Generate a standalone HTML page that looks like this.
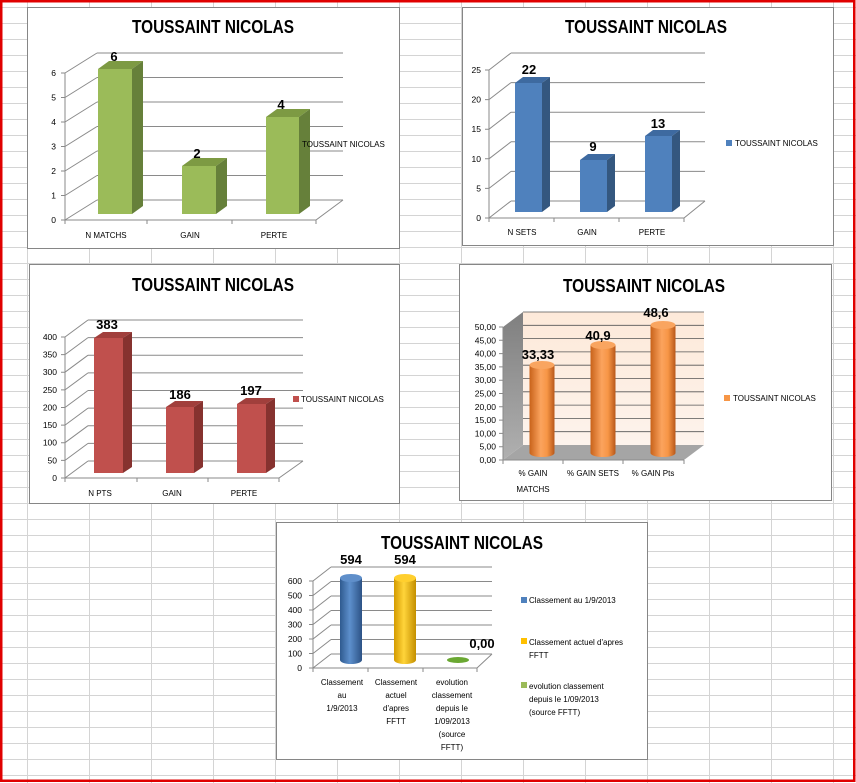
<!DOCTYPE html>
<html><head><meta charset="utf-8"><style>
html,body{margin:0;padding:0;background:#fff;}
svg{display:block;}
text{font-family:"Liberation Sans",sans-serif;fill:#000;}
.t{font-size:18px;font-weight:bold;}
.v{font-size:13px;font-weight:bold;}
.k{font-size:8.5px;}
.c{font-size:8px;}
.g{stroke:#8a8a8a;stroke-width:1;fill:none;}
.box{fill:#fff;stroke:#868686;stroke-width:1;}
</style></head><body>
<svg width="856" height="783" viewBox="0 0 856 783" xmlns="http://www.w3.org/2000/svg">
<defs>
<pattern id="grid" x="0" y="7" width="62" height="16" patternUnits="userSpaceOnUse">
<path d="M0 0.5H62" stroke="#d4d4d4" stroke-width="1"/>
</pattern>
<pattern id="vgrid" x="27" y="0" width="62" height="16" patternUnits="userSpaceOnUse">
<path d="M0.5 0V16" stroke="#d4d4d4" stroke-width="1"/>
</pattern>
<linearGradient id="org" x1="0" x2="1"><stop offset="0" stop-color="#c8621a"/><stop offset="0.45" stop-color="#fba35e"/><stop offset="0.7" stop-color="#f79646"/><stop offset="1" stop-color="#b8581a"/></linearGradient>
<linearGradient id="blu" x1="0" x2="1"><stop offset="0" stop-color="#2f5a8f"/><stop offset="0.45" stop-color="#5d8fcc"/><stop offset="1" stop-color="#2c5285"/></linearGradient>
<linearGradient id="yel" x1="0" x2="1"><stop offset="0" stop-color="#d49b00"/><stop offset="0.45" stop-color="#ffd43a"/><stop offset="1" stop-color="#c48f00"/></linearGradient>
<linearGradient id="wall" x1="0" y1="0" x2="0" y2="1"><stop offset="0" stop-color="#fde9d9"/><stop offset="1" stop-color="#fdf3ec"/></linearGradient>
<linearGradient id="lw" x1="0" y1="0" x2="0" y2="1"><stop offset="0" stop-color="#7f7f7f"/><stop offset="1" stop-color="#b0b0b0"/></linearGradient>
</defs>
<rect width="856" height="783" fill="#fff"/>
<rect width="856" height="783" fill="url(#grid)"/>
<rect width="856" height="783" fill="url(#vgrid)"/>

<!-- Chart 1 -->
<rect class="box" x="27.5" y="7.5" width="372" height="241"/>
<text class="t" x="213" y="33" text-anchor="middle" textLength="162" lengthAdjust="spacingAndGlyphs">TOUSSAINT NICOLAS</text>
<g class="g">
<path d="M97 200H343M97 175.5H343M97 151H343M97 126.5H343M97 102H343M97 77.5H343M97 53H343"/>
<path d="M65 220L97 200M65 195.5L97 175.5M65 171L97 151M65 146.5L97 126.5M65 122L97 102M65 97.5L97 77.5M65 73L97 53"/>
<path d="M65 73V220H316L343 200M61 220H65M61 195.5H65M61 171H65M61 146.5H65M61 122H65M61 97.5H65M61 73H65M147 220V224M232 220V224M316 220V224M65 220V224"/>
</g>
<g class="k" text-anchor="end">
<text x="56" y="223">0</text><text x="56" y="198.5">1</text><text x="56" y="174">2</text><text x="56" y="149.5">3</text><text x="56" y="125">4</text><text x="56" y="100.5">5</text><text x="56" y="76">6</text>
</g>
<rect x="98" y="69" width="34" height="145" fill="#9bbb59"/><polygon points="98,69 109,61 143,61 132,69" fill="#7d9a43"/><polygon points="132,69 143,61 143,206 132,214" fill="#66803a"/>
<rect x="182" y="166" width="34" height="48" fill="#9bbb59"/><polygon points="182,166 193,158 227,158 216,166" fill="#7d9a43"/><polygon points="216,166 227,158 227,206 216,214" fill="#66803a"/>
<rect x="266" y="117" width="33" height="97" fill="#9bbb59"/><polygon points="266,117 277,109 310,109 299,117" fill="#7d9a43"/><polygon points="299,117 310,109 310,206 299,214" fill="#66803a"/>
<g class="v" text-anchor="middle"><text x="114" y="61">6</text><text x="197" y="158">2</text><text x="281" y="109">4</text></g>
<g class="c" text-anchor="middle"><text x="106" y="238">N MATCHS</text><text x="190" y="238">GAIN</text><text x="274" y="238">PERTE</text></g>
<text class="c" x="302" y="147">TOUSSAINT NICOLAS</text>

<!-- Chart 2 -->
<rect class="box" x="462.5" y="7.5" width="371" height="238"/>
<text class="t" x="646" y="33" text-anchor="middle" textLength="162" lengthAdjust="spacingAndGlyphs">TOUSSAINT NICOLAS</text>
<g class="g">
<path d="M511 201H705M511 171.4H705M511 141.8H705M511 112.2H705M511 82.6H705M511 53H705"/>
<path d="M489 218L511 201M489 188.4L511 171.4M489 158.8L511 141.8M489 129.2L511 112.2M489 99.6L511 82.6M489 70L511 53"/>
<path d="M489 70V218H684L705 201M485 218H489M485 188.4H489M485 158.8H489M485 129.2H489M485 99.6H489M485 70H489M489 218V222M554 218V222M619 218V222M684 218V222"/>
</g>
<g class="k" text-anchor="end">
<text x="481" y="221">0</text><text x="481" y="191.4">5</text><text x="481" y="161.8">10</text><text x="481" y="132.2">15</text><text x="481" y="102.6">20</text><text x="481" y="73">25</text>
</g>
<rect x="515" y="83" width="27" height="129" fill="#4f81bd"/><polygon points="515,83 523,77 550,77 542,83" fill="#3e6aa0"/><polygon points="542,83 550,77 550,206 542,212" fill="#34577f"/>
<rect x="580" y="160" width="27" height="52" fill="#4f81bd"/><polygon points="580,160 588,154 615,154 607,160" fill="#3e6aa0"/><polygon points="607,160 615,154 615,206 607,212" fill="#34577f"/>
<rect x="645" y="136" width="27" height="76" fill="#4f81bd"/><polygon points="645,136 653,130 680,130 672,136" fill="#3e6aa0"/><polygon points="672,136 680,130 680,206 672,212" fill="#34577f"/>
<g class="v" text-anchor="middle"><text x="529" y="74">22</text><text x="593" y="151">9</text><text x="658" y="128">13</text></g>
<g class="c" text-anchor="middle"><text x="522" y="235">N SETS</text><text x="587" y="235">GAIN</text><text x="652" y="235">PERTE</text></g>
<rect x="726" y="140" width="6" height="6" fill="#4f81bd"/>
<text class="c" x="735" y="146">TOUSSAINT NICOLAS</text>

<!-- Chart 3 -->
<rect class="box" x="29.5" y="264.5" width="370" height="239"/>
<text class="t" x="213" y="291" text-anchor="middle" textLength="162" lengthAdjust="spacingAndGlyphs">TOUSSAINT NICOLAS</text>
<g class="g">
<path d="M88 461H303M88 443.4H303M88 425.7H303M88 408.1H303M88 390.5H303M88 372.9H303M88 355.2H303M88 337.6H303M88 320H303"/>
<path d="M65 478L88 461M65 460.4L88 443.4M65 442.7L88 425.7M65 425.1L88 408.1M65 407.5L88 390.5M65 389.9L88 372.9M65 372.2L88 355.2M65 354.6L88 337.6M65 337L88 320"/>
<path d="M65 337V478H279L303 461M61 478H65M61 460.4H65M61 442.7H65M61 425.1H65M61 407.5H65M61 389.9H65M61 372.2H65M61 354.6H65M61 337H65M65 478V482M137 478V482M208 478V482M279 478V482"/>
</g>
<g class="k" text-anchor="end">
<text x="57" y="481">0</text><text x="57" y="463.4">50</text><text x="57" y="445.7">100</text><text x="57" y="428.1">150</text><text x="57" y="410.5">200</text><text x="57" y="392.9">250</text><text x="57" y="375.2">300</text><text x="57" y="357.6">350</text><text x="57" y="340">400</text>
</g>
<rect x="94" y="338" width="29" height="135" fill="#c0504d"/><polygon points="94,338 103,332 132,332 123,338" fill="#a13f3c"/><polygon points="123,338 132,332 132,467 123,473" fill="#86322f"/>
<rect x="166" y="407" width="28" height="66" fill="#c0504d"/><polygon points="166,407 175,401 203,401 194,407" fill="#a13f3c"/><polygon points="194,407 203,401 203,467 194,473" fill="#86322f"/>
<rect x="237" y="404" width="29" height="69" fill="#c0504d"/><polygon points="237,404 246,398 275,398 266,404" fill="#a13f3c"/><polygon points="266,404 275,398 275,467 266,473" fill="#86322f"/>
<g class="v" text-anchor="middle"><text x="107" y="329">383</text><text x="180" y="399">186</text><text x="251" y="395">197</text></g>
<g class="c" text-anchor="middle"><text x="100" y="496">N PTS</text><text x="172" y="496">GAIN</text><text x="244" y="496">PERTE</text></g>
<rect x="293" y="396" width="6" height="6" fill="#c0504d"/>
<text class="c" x="301" y="402">TOUSSAINT NICOLAS</text>

<!-- Chart 4 -->
<rect class="box" x="459.5" y="264.5" width="372" height="236"/>
<text class="t" x="644" y="292" text-anchor="middle" textLength="162" lengthAdjust="spacingAndGlyphs">TOUSSAINT NICOLAS</text>
<rect x="523" y="312" width="181" height="133" fill="url(#wall)"/>
<polygon points="503,460 523,445 523,312 503,327" fill="url(#lw)"/>
<polygon points="503,460 684,460 704,445 523,445" fill="#a5a5a5"/>
<g stroke="#555" stroke-width="0.8">
<path d="M523 431.7H704M523 418.4H704M523 405.1H704M523 391.8H704M523 378.5H704M523 365.2H704M523 351.9H704M523 338.6H704M523 325.3H704M523 312H704"/>
</g>
<g class="g">
<path d="M503 327V460H684M499 460H503M499 446.7H503M499 433.4H503M499 420.1H503M499 406.8H503M499 393.5H503M499 380.2H503M499 366.9H503M499 353.6H503M499 340.3H503M499 327H503M503 460V464M563 460V464M623 460V464M684 460V464"/>
</g>
<g class="k" text-anchor="end">
<text x="496" y="463">0,00</text><text x="496" y="449.7">5,00</text><text x="496" y="436.4">10,00</text><text x="496" y="423.1">15,00</text><text x="496" y="409.8">20,00</text><text x="496" y="396.5">25,00</text><text x="496" y="383.2">30,00</text><text x="496" y="369.9">35,00</text><text x="496" y="356.6">40,00</text><text x="496" y="343.3">45,00</text><text x="496" y="330">50,00</text>
</g>
<g>
<path d="M529.5 365V453A12.5 4 0 0 0 554.5 453V365Z" fill="url(#org)"/><ellipse cx="542" cy="365" rx="12.5" ry="4" fill="#f9a560"/>
<path d="M590.5 345V453A12.5 4 0 0 0 615.5 453V345Z" fill="url(#org)"/><ellipse cx="603" cy="345" rx="12.5" ry="4" fill="#f9a560"/>
<path d="M650.5 325V453A12.5 4 0 0 0 675.5 453V325Z" fill="url(#org)"/><ellipse cx="663" cy="325" rx="12.5" ry="4" fill="#f9a560"/>
</g>
<g class="v" text-anchor="middle"><text x="538" y="359">33,33</text><text x="598" y="340">40,9</text><text x="656" y="317">48,6</text></g>
<g class="c" text-anchor="middle"><text x="533" y="476">% GAIN</text><text x="533" y="492">MATCHS</text><text x="593" y="476">% GAIN SETS</text><text x="653" y="476">% GAIN Pts</text></g>
<rect x="724" y="395" width="6" height="6" fill="#f79646"/>
<text class="c" x="733" y="401">TOUSSAINT NICOLAS</text>

<!-- Chart 5 -->
<rect class="box" x="276.5" y="522.5" width="371" height="237"/>
<text class="t" x="462" y="549" text-anchor="middle" textLength="162" lengthAdjust="spacingAndGlyphs">TOUSSAINT NICOLAS</text>
<g class="g">
<path d="M331 654H492M331 639.5H492M331 625H492M331 610.5H492M331 596H492M331 581.5H492M331 567H492"/>
<path d="M313 668L331 654M313 653.5L331 639.5M313 639L331 625M313 624.5L331 610.5M313 610L331 596M313 595.5L331 581.5M313 581L331 567"/>
<path d="M313 581V668H477L492 654M309 668H313M309 653.5H313M309 639H313M309 624.5H313M309 610H313M309 595.5H313M309 581H313M313 668V672M368 668V672M423 668V672M477 668V672"/>
</g>
<g class="k" text-anchor="end">
<text x="302" y="671">0</text><text x="302" y="656.5">100</text><text x="302" y="642">200</text><text x="302" y="627.5">300</text><text x="302" y="613">400</text><text x="302" y="598.5">500</text><text x="302" y="584">600</text>
</g>
<path d="M340 578V660A11 4 0 0 0 362 660V578Z" fill="url(#blu)"/><ellipse cx="351" cy="578" rx="11" ry="4" fill="#5f8fca"/>
<path d="M394 578V660A11 4 0 0 0 416 660V578Z" fill="url(#yel)"/><ellipse cx="405" cy="578" rx="11" ry="4" fill="#ffcf2e"/>
<ellipse cx="458" cy="660" rx="11" ry="3" fill="#6aa832"/>
<g class="v" text-anchor="middle"><text x="351" y="564">594</text><text x="405" y="564">594</text><text x="482" y="648">0,00</text></g>
<g class="c" text-anchor="middle">
<text x="342" y="685">Classement</text><text x="342" y="698">au</text><text x="342" y="711">1/9/2013</text>
<text x="396" y="685">Classement</text><text x="396" y="698">actuel</text><text x="396" y="711">d'apres</text><text x="396" y="724">FFTT</text>
<text x="452" y="685">evolution</text><text x="452" y="698">classement</text><text x="452" y="711">depuis le</text><text x="452" y="724">1/09/2013</text><text x="452" y="737">(source</text><text x="452" y="750">FFTT)</text>
</g>
<rect x="521" y="597" width="6" height="6" fill="#4f81bd"/>
<rect x="521" y="638" width="6" height="6" fill="#ffc000"/>
<rect x="521" y="682" width="6" height="6" fill="#9bbb59"/>
<g class="c">
<text x="529" y="603">Classement au 1/9/2013</text>
<text x="529" y="645">Classement actuel d'apres</text><text x="529" y="658">FFTT</text>
<text x="529" y="689">evolution classement</text><text x="529" y="702">depuis le 1/09/2013</text><text x="529" y="715">(source FFTT)</text>
</g>

<!-- red border -->
<rect x="1.25" y="1.25" width="853" height="779.5" fill="none" stroke="#e00000" stroke-width="2.5"/>
</svg>
</body></html>
